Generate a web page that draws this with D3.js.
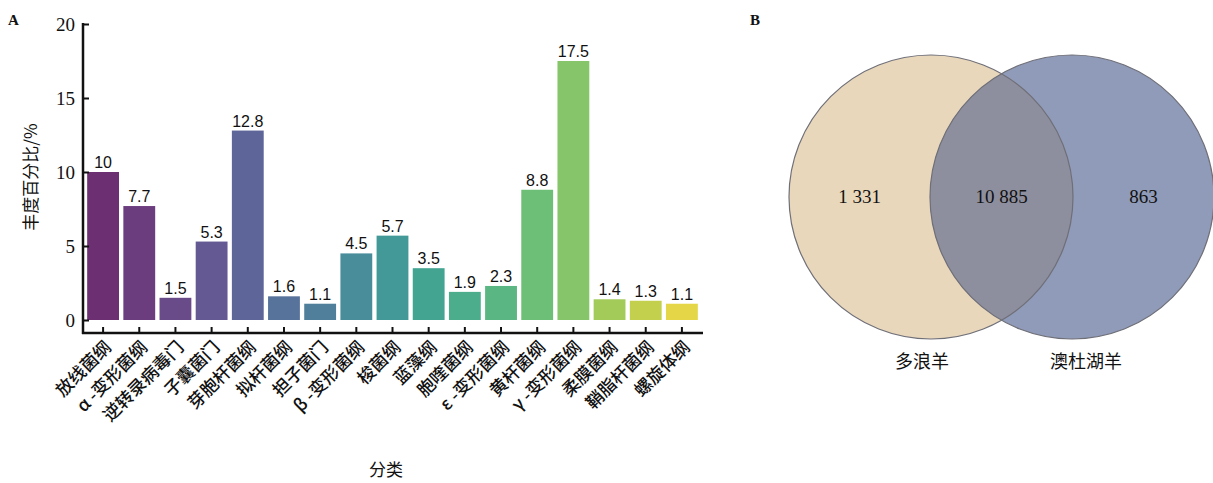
<!DOCTYPE html>
<html>
<head>
<meta charset="utf-8">
<script src="https://cdn.jsdelivr.net/npm/d3@7"></script>
<style>
  html, body { margin: 0; padding: 0; background: #fff; }
  svg { display: block; }
</style>
</head>
<body>
<svg id="chart" width="1213" height="483"></svg>
<script>
// Panel A: relative abundance by class (%)
const categories = [
  "放线菌纲", "α -变形菌纲", "逆转录病毒门", "子囊菌门", "芽胞杆菌纲",
  "拟杆菌纲", "担子菌门", "β -变形菌纲", "梭菌纲", "蓝藻纲",
  "胞喹菌纲", "ε -变形菌纲", "黄杆菌纲", "γ -变形菌纲", "柔膜菌纲",
  "鞘脂杆菌纲", "螺旋体纲"
];
const abundance = [10, 7.7, 1.5, 5.3, 12.8, 1.6, 1.1, 4.5, 5.7, 3.5, 1.9, 2.3, 8.8, 17.5, 1.4, 1.3, 1.1];
const yTicks = [0, 5, 10, 15, 20];

// Panel B: shared / unique counts between two groups
const groups = ["多浪羊", "澳杜湖羊"];
const uniqueCounts = [1331, 863];
const sharedCount = 10885;

const svg = d3.select("#chart");
const serif = "'Liberation Serif', 'DejaVu Serif', serif";
const sans = "'Liberation Sans', Arial, sans-serif";
const cjk = "'Noto Sans CJK SC', sans-serif";

// ---------- Panel A ----------
const x = d3.scaleBand().domain(categories).range([85, 700]).paddingInner(0.12).paddingOuter(0.06);
const y = d3.scaleLinear().domain([0, 20]).range([320, 24]);

const palette = d3.scaleSequential(d3.interpolateRgbBasis([
  "#6b2f72", "#6b4888", "#62629a", "#55749c", "#47909b", "#3ea393",
  "#52b386", "#74c274", "#a9cc52", "#e5d647"
])).domain([0, categories.length - 1]);

const gA = svg.append("g");

gA.selectAll("rect.bar")
  .data(abundance)
  .join("rect")
  .attr("class", "bar")
  .attr("x", (d, i) => x(categories[i]))
  .attr("y", d => y(d))
  .attr("width", x.bandwidth())
  .attr("height", d => y(0) - y(d))
  .attr("fill", (d, i) => palette(i));

gA.selectAll("text.val")
  .data(abundance)
  .join("text")
  .attr("class", "val")
  .attr("x", (d, i) => x(categories[i]) + x.bandwidth() / 2)
  .attr("y", d => y(d) - 4)
  .attr("text-anchor", "middle")
  .attr("font-family", sans)
  .attr("font-size", 16)
  .attr("fill", "#111")
  .text(d => d);

// Y axis (ticks point inward)
const yAxis = d3.axisLeft(y).tickValues(yTicks).tickSizeInner(-6).tickSizeOuter(0).tickPadding(8);
const gy = gA.append("g").attr("transform", "translate(83,0)").call(yAxis);
gy.select(".domain").remove();
gy.append("line").attr("x1", 0).attr("x2", 0).attr("y1", 23).attr("y2", 334)
  .attr("stroke", "#111").attr("stroke-width", 2.5);
gy.selectAll(".tick line").attr("stroke", "#111").attr("stroke-width", 2);
gy.selectAll(".tick text").attr("font-family", serif).attr("font-size", 19).attr("fill", "#111");

// X axis (ticks point inward)
const xAxis = d3.axisBottom(x).tickSizeInner(-6).tickSizeOuter(0).tickFormat("");
const gx = gA.append("g").attr("transform", "translate(0,333)").call(xAxis);
gx.select(".domain").remove();
gx.append("line").attr("x1", 82).attr("x2", 703).attr("y1", 0).attr("y2", 0)
  .attr("stroke", "#111").attr("stroke-width", 2.5);
gx.selectAll(".tick line").attr("stroke", "#111").attr("stroke-width", 2);

gA.selectAll("text.cat")
  .data(categories)
  .join("text")
  .attr("class", "cat")
  .attr("transform", d => `translate(${x(d) + x.bandwidth() / 2 + 5},344) rotate(-45)`)
  .attr("text-anchor", "end")
  .attr("dy", "0.35em")
  .attr("font-family", cjk)
  .attr("font-weight", 500)
  .attr("font-size", 17.5)
  .attr("fill", "#111")
  .text(d => d);

gA.append("text")
  .attr("transform", "translate(37,177) rotate(-90)")
  .attr("text-anchor", "middle")
  .attr("font-family", cjk)
  .attr("font-size", 17)
  .attr("fill", "#111")
  .text("丰度百分比/%");

gA.append("text")
  .attr("x", 386).attr("y", 476)
  .attr("text-anchor", "middle")
  .attr("font-family", cjk)
  .attr("font-size", 17)
  .attr("fill", "#111")
  .text("分类");

gA.append("text")
  .attr("x", 8).attr("y", 25)
  .attr("font-family", serif).attr("font-weight", "bold")
  .attr("font-size", 15).attr("fill", "#111")
  .text("A");

// ---------- Panel B ----------
const fmt = n => d3.format(",")(n).replace(/,/g, " ");
const gB = svg.append("g");
const cy = 197, r = 142;
const cx = [931, 1072];

gB.append("text")
  .attr("x", 750).attr("y", 25)
  .attr("font-family", serif).attr("font-weight", "bold")
  .attr("font-size", 15).attr("fill", "#111")
  .text("B");

gB.append("defs").append("clipPath").attr("id", "clipLeft")
  .append("circle").attr("cx", cx[0]).attr("cy", cy).attr("r", r);

gB.append("circle").attr("cx", cx[0]).attr("cy", cy).attr("r", r)
  .attr("fill", "#e8d7bb");
gB.append("circle").attr("cx", cx[1]).attr("cy", cy).attr("r", r)
  .attr("fill", "#8f9bb8");
gB.append("circle").attr("cx", cx[1]).attr("cy", cy).attr("r", r)
  .attr("clip-path", "url(#clipLeft)")
  .attr("fill", "#8e8f9e");
gB.selectAll("circle.outline")
  .data(cx)
  .join("circle")
  .attr("class", "outline")
  .attr("cx", d => d).attr("cy", cy).attr("r", r)
  .attr("fill", "none").attr("stroke", "#6f6f78").attr("stroke-width", 1.2);

const countLabels = [
  { v: uniqueCounts[0], x: (cx[0] - r + cx[1] - r) / 2 },
  { v: sharedCount, x: (cx[0] + cx[1]) / 2 },
  { v: uniqueCounts[1], x: (cx[0] + r + cx[1] + r) / 2 }
];
gB.selectAll("text.count")
  .data(countLabels)
  .join("text")
  .attr("class", "count")
  .attr("x", d => d.x).attr("y", cy + 6)
  .attr("text-anchor", "middle")
  .attr("font-family", serif)
  .attr("font-size", 19)
  .attr("fill", "#111")
  .text(d => fmt(d.v));

gB.selectAll("text.group")
  .data(groups)
  .join("text")
  .attr("class", "group")
  .attr("x", (d, i) => [922, 1086][i]).attr("y", 368)
  .attr("text-anchor", "middle")
  .attr("font-family", cjk)
  .attr("font-size", 18)
  .attr("fill", "#111")
  .text(d => d);
</script>
</body>
</html>
